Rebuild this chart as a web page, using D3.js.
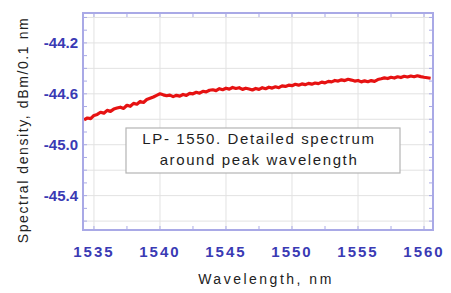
<!DOCTYPE html>
<html>
<head>
<meta charset="utf-8">
<script src="https://cdn.jsdelivr.net/npm/d3@7"></script>
<style>
  body { margin: 0; background: #fff; }
  svg { display: block; font-family: "Liberation Sans", Arial, sans-serif; }
</style>
</head>
<body>
<svg id="chart" width="451" height="293"></svg>
<script>
// Sample grid of the spectrum (nm)
const startWl = 1534.25, stepWl = 0.25;

// Spectral density, dBm/0.1 nm
const density = [
  -44.805, -44.790, -44.795, -44.770, -44.762, -44.745, -44.752, -44.730,
  -44.738, -44.720, -44.712, -44.705, -44.715, -44.690, -44.698, -44.675,
  -44.682, -44.660, -44.668, -44.645, -44.635, -44.625, -44.612, -44.600,
  -44.608, -44.615, -44.610, -44.622, -44.612, -44.618, -44.605, -44.612,
  -44.596, -44.600, -44.588, -44.595, -44.580, -44.585, -44.572, -44.568,
  -44.575, -44.560, -44.568, -44.556, -44.563, -44.550, -44.558, -44.552,
  -44.565, -44.556, -44.562, -44.570, -44.558, -44.565, -44.552, -44.560,
  -44.548, -44.555, -44.545, -44.552, -44.538, -44.542, -44.532, -44.536,
  -44.525, -44.532, -44.522, -44.528, -44.518, -44.524, -44.515, -44.520,
  -44.508, -44.514, -44.502, -44.506, -44.495, -44.500, -44.490, -44.496,
  -44.486, -44.492, -44.500, -44.495, -44.506, -44.498, -44.505, -44.496,
  -44.502, -44.488, -44.482, -44.475, -44.480, -44.470, -44.476, -44.466,
  -44.472, -44.462, -44.468, -44.460, -44.466, -44.458, -44.465, -44.470,
  -44.474, -44.478
];

const xTicks = [1535, 1540, 1545, 1550, 1555, 1560];
const yTicks = [-44.2, -44.6, -45.0, -45.4];
const yGrid = [-44.0, -44.2, -44.4, -44.6, -44.8, -45.0, -45.2, -45.4, -45.6];
const noteLines = ["LP- 1550. Detailed spectrum", "around  peak wavelength"];

const data = density.map((v, i) => ({wl: startWl + i * stepWl, v: v}));

const margin = {top: 13, left: 83},
      width = 350,
      height = 217;

const svg = d3.select("#chart");
const g = svg.append("g").attr("transform", `translate(${margin.left},${margin.top})`);

const x = d3.scaleLinear().domain([1534.17, 1560.68]).range([0, width]);
const y = d3.scaleLinear().domain([-45.67, -43.965]).range([height, 0]);

const frameColor = "#a9a9e6",
      gridColor = "#e2e2e2",
      tickColor = "#3a3ab4";

// grid
g.selectAll(".hgrid").data(yGrid.filter(d => y(d) > 0 && y(d) < height))
  .enter().append("line")
    .attr("x1", 0).attr("x2", width)
    .attr("y1", d => y(d)).attr("y2", d => y(d))
    .attr("stroke", gridColor).attr("stroke-width", 1);

g.selectAll(".vgrid").data(xTicks)
  .enter().append("line")
    .attr("y1", 0).attr("y2", height)
    .attr("x1", d => x(d)).attr("x2", d => x(d))
    .attr("stroke", gridColor).attr("stroke-width", 1);

// inward ticks on all sides
const xMinor = d3.range(1535, 1560.1, 2.5);
const yMinor = d3.range(-45.6, -43.95, 0.1);
g.selectAll(".xt").data(xMinor).enter().append("path")
    .attr("d", d => `M${x(d)},${height}v-4M${x(d)},0v4`)
    .attr("stroke", frameColor).attr("stroke-width", 1);
g.selectAll(".yt").data(yMinor).enter().append("path")
    .attr("d", d => `M0,${y(d)}h4M${width},${y(d)}h-4`)
    .attr("stroke", frameColor).attr("stroke-width", 1);

// spectrum line
const line = d3.line().x(d => x(d.wl)).y(d => y(d.v));
g.append("path")
  .datum(data)
  .attr("fill", "none")
  .attr("stroke", "#e61212")
  .attr("stroke-width", 3.2)
  .attr("stroke-linejoin", "round")
  .attr("d", line);

// frame
g.append("rect")
  .attr("width", width).attr("height", height)
  .attr("fill", "none").attr("stroke", frameColor).attr("stroke-width", 2);

// tick labels
svg.selectAll(".xl").data(xTicks).enter().append("text")
    .attr("x", d => margin.left + x(d))
    .attr("y", 257)
    .attr("text-anchor", "middle")
    .attr("fill", tickColor)
    .style("font-size", "15px").style("font-weight", "bold")
    .style("letter-spacing", "2px")
    .text(d => d);

svg.selectAll(".yl").data(yTicks).enter().append("text")
    .attr("x", 78)
    .attr("y", d => margin.top + y(d) + 5.5)
    .attr("text-anchor", "end")
    .attr("fill", tickColor)
    .style("font-size", "15px").style("font-weight", "bold")
    .text(d => d3.format(".1f")(d).replace("−", "-"));

// axis titles
svg.append("text")
  .attr("x", 266).attr("y", 284)
  .attr("text-anchor", "middle")
  .attr("fill", "#222")
  .style("font-size", "14px").style("letter-spacing", "2.5px")
  .text("Wavelength, nm");

svg.append("text")
  .attr("transform", "translate(28,130) rotate(-90)")
  .attr("text-anchor", "middle")
  .attr("fill", "#222")
  .style("font-size", "14px").style("letter-spacing", "1.6px")
  .text("Spectral density, dBm/0.1 nm");

// note box
const box = g.append("g").attr("transform", `translate(${126 - margin.left},${128 - margin.top})`);
box.append("rect")
  .attr("width", 274).attr("height", 45)
  .attr("fill", "#fff").attr("stroke", "#b4b4b4").attr("stroke-width", 1.2);
box.selectAll("text").data(noteLines).enter().append("text")
  .attr("x", 133)
  .attr("y", (d, i) => 16 + i * 21)
  .attr("text-anchor", "middle")
  .attr("fill", "#1e1e1e")
  .style("font-size", "15px").style("letter-spacing", "1.6px")
  .text(d => d);
</script>
</body>
</html>
